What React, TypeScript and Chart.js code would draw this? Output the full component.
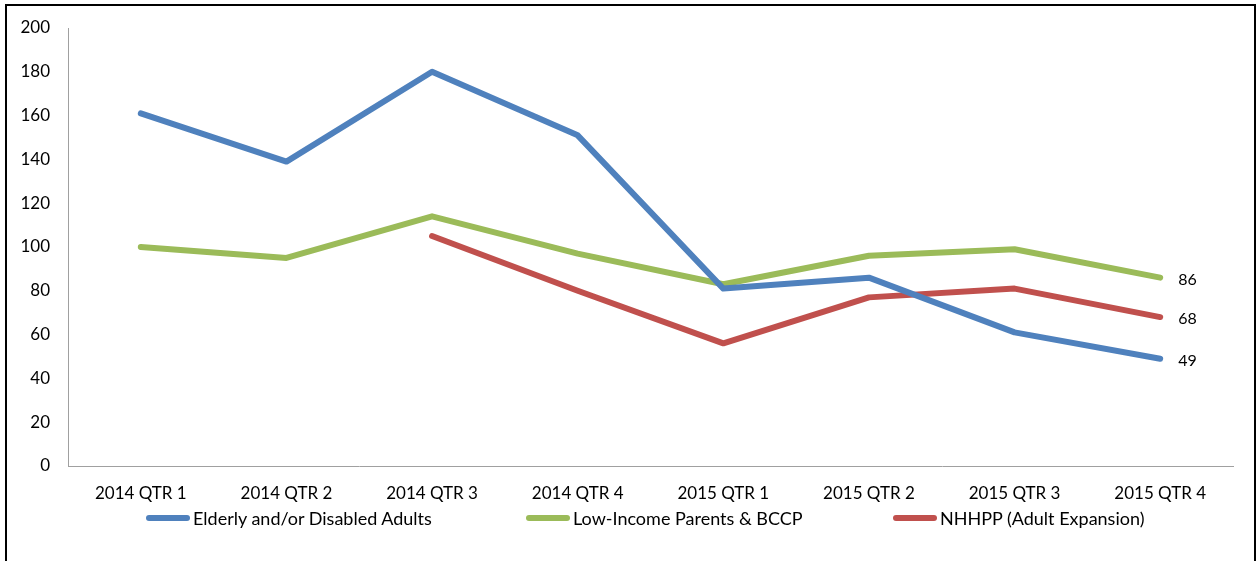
import React, { useEffect, useRef } from "react";
import { Chart, registerables } from "chart.js";

Chart.register(...registerables);

const categories = [
  "2014 QTR 1", "2014 QTR 2", "2014 QTR 3", "2014 QTR 4",
  "2015 QTR 1", "2015 QTR 2", "2015 QTR 3", "2015 QTR 4",
];
const elderly = [161, 139, 180, 151, 81, 86, 61, 49];
const lowIncome = [100, 95, 114, 97, 83, 96, 99, 86];
const nhhpp = [null, null, 105, 80, 56, 77, 81, 68];
const yTicks = [0, 20, 40, 60, 80, 100, 120, 140, 160, 180, 200];

const seriesNames = [
  "Elderly and/or Disabled Adults",
  "Low-Income Parents & BCCP",
  "NHHPP (Adult Expansion)",
];
const seriesColors = ["#4F81BD", "#9BBB59", "#C0504D"];
const legendLefts = [139, 519, 886];

const FONT = "Lato, 'Open Sans', sans-serif";

const lastLabelPlugin = {
  id: "lastLabel",
  afterDatasetsDraw(chart: any) {
    const ctx = chart.ctx;
    ctx.save();
    ctx.font = `16px ${FONT}`;
    ctx.fillStyle = "#000";
    ctx.textAlign = "left";
    ctx.textBaseline = "middle";
    chart.data.datasets.forEach((ds: any, i: number) => {
      const meta = chart.getDatasetMeta(i);
      const n = ds.data.length - 1;
      const pt = meta.data[n];
      if (pt && ds.data[n] != null) {
        ctx.fillText(String(ds.data[n]), pt.x + 18, pt.y + 2);
      }
    });
    ctx.restore();
  },
};

export default function App() {
  const ref = useRef<HTMLCanvasElement>(null);
  useEffect(() => {
    if (!ref.current) return;
    const mk = (label: string, data: any[], color: string) => ({
      label,
      data,
      borderColor: color,
      backgroundColor: color,
      borderWidth: 6,
      borderCapStyle: "round" as const,
      borderJoinStyle: "round" as const,
      pointRadius: 0,
      pointHoverRadius: 0,
      tension: 0,
      spanGaps: false,
    });
    const chart = new Chart(ref.current, {
      type: "line",
      data: {
        labels: categories,
        datasets: [
          mk(seriesNames[0], elderly, seriesColors[0]),
          mk(seriesNames[1], lowIncome, seriesColors[1]),
          mk(seriesNames[2], nhhpp, seriesColors[2]),
        ],
      },
      options: {
        animation: false,
        responsive: true,
        maintainAspectRatio: false,
        layout: { padding: { top: 22, right: 21, left: 0, bottom: 57 } },
        plugins: {
          tooltip: { enabled: false },
          legend: { display: false },
        },
        scales: {
          x: {
            offset: true,
            grid: { display: false, drawTicks: false },
            border: { display: true, color: "#a0a0a0", width: 1 },
            ticks: {
              color: "#000",
              font: { family: FONT, size: 17 },
              padding: 17,
              maxRotation: 0,
              autoSkip: false,
            },
            afterFit(scale: any) {
              scale.height = 38;
              scale.paddingLeft = 0;
              scale.paddingRight = 0;
            },
          },
          y: {
            min: 0,
            max: 200,
            afterBuildTicks(scale: any) {
              scale.ticks = yTicks.map((v) => ({ value: v }));
            },
            grid: { display: false, drawTicks: false },
            border: { display: true, color: "#a0a0a0", width: 1 },
            ticks: {
              color: "#000",
              font: { family: FONT, size: 17 },
              padding: 18,
            },
            afterFit(scale: any) {
              scale.width = 61;
              scale.paddingTop = 0;
              scale.paddingBottom = 0;
            },
          },
        },
      },
      plugins: [lastLabelPlugin],
    });
    return () => chart.destroy();
  }, []);

  return (
    <div
      style={{
        position: "absolute",
        left: 5,
        top: 4,
        width: 1251,
        height: 640,
        border: "2px solid #000",
        boxSizing: "border-box",
        background: "#fff",
      }}
    >
      <div style={{ position: "relative", width: 1247, height: 555 }}>
        <canvas ref={ref} />
        {seriesNames.map((name, i) => (
          <div
            key={name}
            style={{
              position: "absolute",
              left: legendLefts[i],
              top: 502,
              height: 20,
              display: "flex",
              alignItems: "center",
              whiteSpace: "nowrap",
              fontFamily: FONT,
              fontSize: 18,
              color: "#000",
            }}
          >
            <span
              style={{
                display: "inline-block",
                width: 44,
                height: 6,
                borderRadius: 3,
                background: seriesColors[i],
                marginRight: 3,
              }}
            />
            <span>{name}</span>
          </div>
        ))}
      </div>
    </div>
  );
}
